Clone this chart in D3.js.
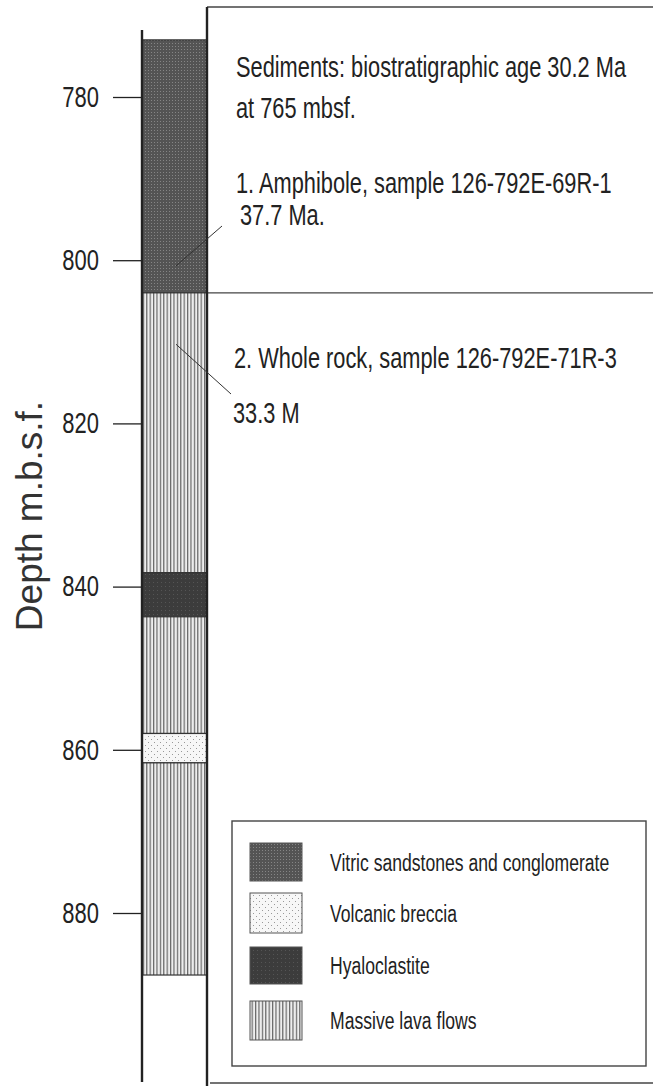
<!DOCTYPE html>
<html lang="en">
<head>
  <meta charset="UTF-8">
  <title>Hole 792E lithology column</title>
  <script src="https://d3js.org/d3.v7.min.js"></script>
  <style>
    body { margin: 0; background: #fff; }
    svg { display: block; background: #fff; }
    text { font-family: "Liberation Sans", Arial, sans-serif; fill: #222; }
    .axis text { font-size: 22px; fill: #222; font-family: "Liberation Sans", Arial, sans-serif; }
    .axis line { stroke: #222; stroke-width: 1.3; }
    .note { font-size: 21.8px; }
    .legend-text { font-size: 17.6px; }
    .frame { stroke: #444; stroke-width: 1.4; fill: none; }
  </style>
</head>
<body>
  <svg width="653" height="1086"></svg>
  <script>
    const width = 653;
    const height = 1086;
    const stretch = 1.33; // the original figure is stretched vertically

    // Depth ticks (m.b.s.f.)
    const depthTicks = [780, 800, 820, 840, 860, 880];

    // Lithologic units: top and bottom depth
    const units = [
      { name: "sediment",   top: 773,   bottom: 804 },
      { name: "lava",       top: 804,   bottom: 838.3 },
      { name: "hyalo",      top: 838.3, bottom: 843.7 },
      { name: "lava",       top: 843.7, bottom: 858 },
      { name: "breccia",    top: 858,   bottom: 861.6 },
      { name: "lava",       top: 861.6, bottom: 887.6 }
    ];

    // Legend entries
    const legendKeys = ["sediment", "breccia", "hyalo", "lava"];
    const legendLabels = [
      "Vitric sandstones and conglomerate",
      "Volcanic breccia",
      "Hyaloclastite",
      "Massive lava flows"
    ];

    // Sample positions (depth) for the leader lines
    const sampleDepths = [800.7, 810.3];

    // Text notes
    const notes = [
      "Sediments: biostratigraphic age 30.2 Ma",
      "at 765 mbsf.",
      "1. Amphibole, sample 126-792E-69R-1",
      "37.7 Ma.",
      "2. Whole rock, sample 126-792E-71R-3",
      "33.3 M"
    ];

    const svg = d3.select("svg");

    const y = d3.scaleLinear()
      .domain([780, 880])
      .range([97, 913]);

    const colLeft = 142;
    const colRight = 207;

    // Patterns
    const defs = svg.append("defs");

    const sed = defs.append("pattern")
      .attr("id", "p-sediment")
      .attr("patternUnits", "userSpaceOnUse")
      .attr("width", 3).attr("height", 3);
    sed.append("rect").attr("width", 3).attr("height", 3).attr("fill", "#545454");
    sed.append("rect").attr("x", 1).attr("y", 1).attr("width", 1).attr("height", 1).attr("fill", "#858585");

    const hy = defs.append("pattern")
      .attr("id", "p-hyalo")
      .attr("patternUnits", "userSpaceOnUse")
      .attr("width", 4).attr("height", 4);
    hy.append("rect").attr("width", 4).attr("height", 4).attr("fill", "#3c3c3c");
    hy.append("rect").attr("x", 1).attr("y", 2).attr("width", 1).attr("height", 1).attr("fill", "#555");

    const br = defs.append("pattern")
      .attr("id", "p-breccia")
      .attr("patternUnits", "userSpaceOnUse")
      .attr("width", 6).attr("height", 6);
    br.append("rect").attr("width", 6).attr("height", 6).attr("fill", "#f7f7f7");
    br.append("rect").attr("x", 1).attr("y", 1).attr("width", 1).attr("height", 1).attr("fill", "#999");
    br.append("rect").attr("x", 4).attr("y", 4).attr("width", 1).attr("height", 1).attr("fill", "#999");

    const lv = defs.append("pattern")
      .attr("id", "p-lava")
      .attr("patternUnits", "userSpaceOnUse")
      .attr("width", 3.4).attr("height", 10);
    lv.append("rect").attr("width", 3.4).attr("height", 10).attr("fill", "#eeeeee");
    lv.append("rect").attr("x", 0).attr("width", 1.2).attr("height", 10).attr("fill", "#666");

    // Outer frame lines
    svg.append("line").attr("class", "frame")
      .attr("x1", colRight).attr("x2", width).attr("y1", 7).attr("y2", 7);
    svg.append("line").attr("class", "frame")
      .attr("x1", colRight).attr("x2", width).attr("y1", y(804)).attr("y2", y(804));
    svg.append("line").attr("class", "frame")
      .attr("x1", colRight + 3).attr("x2", width).attr("y1", 1083).attr("y2", 1083);

    // Column fills
    svg.append("g")
      .selectAll("rect")
      .data(units)
      .join("rect")
      .attr("x", colLeft)
      .attr("width", colRight - colLeft)
      .attr("y", d => y(d.top))
      .attr("height", d => y(d.bottom) - y(d.top))
      .attr("fill", d => `url(#p-${d.name})`)
      .attr("stroke", "#333")
      .attr("stroke-width", 1.2);

    // Column edges
    svg.append("line")
      .attr("x1", colLeft).attr("x2", colLeft)
      .attr("y1", 30).attr("y2", 1082)
      .attr("stroke", "#222").attr("stroke-width", 2.4);
    svg.append("line")
      .attr("x1", colRight).attr("x2", colRight)
      .attr("y1", 7).attr("y2", height)
      .attr("stroke", "#222").attr("stroke-width", 2.4);

    // Axis
    const axis = svg.append("g")
      .attr("class", "axis")
      .attr("transform", `translate(${colLeft - 1},0)`)
      .call(d3.axisLeft(y).tickValues(depthTicks).tickSize(28).tickPadding(14));
    axis.select(".domain").remove();
    axis.selectAll(".tick text")
      .attr("font-size", null)
      .attr("transform", `scale(1,${stretch})`);

    svg.append("text")
      .attr("transform", `translate(42,${y(830) + 11}) rotate(-90)`)
      .attr("text-anchor", "middle")
      .style("font-size", "37px")
      .style("fill", "#333")
      .text("Depth m.b.s.f.");

    // Notes
    const noteX = [236, 236, 236, 240, 234, 233];
    const noteY = [77, 118, 193, 225, 368, 423];
    svg.append("g")
      .selectAll("text")
      .data(notes)
      .join("text")
      .attr("class", "note")
      .attr("transform", (d, i) => `translate(${noteX[i]},${noteY[i]}) scale(1,${stretch})`)
      .text(d => d);

    // Leader lines from sample position to the note
    const leaderEnds = [[222, 226], [231, 394]];
    svg.append("g")
      .selectAll("line")
      .data(sampleDepths)
      .join("line")
      .attr("x1", 176)
      .attr("y1", d => y(d))
      .attr("x2", (d, i) => leaderEnds[i][0])
      .attr("y2", (d, i) => leaderEnds[i][1])
      .attr("stroke", "#333")
      .attr("stroke-width", 1);

    // Legend
    const legend = svg.append("g");
    legend.append("rect")
      .attr("x", 232).attr("y", 821)
      .attr("width", 414).attr("height", 245)
      .attr("class", "frame");

    const rowY = [843, 893, 947, 1001];
    const rowH = [38, 40, 37, 39];
    const rows = legend.selectAll("g.row")
      .data(legendKeys)
      .join("g")
      .attr("class", "row");

    rows.append("rect")
      .attr("x", 250)
      .attr("y", (d, i) => rowY[i])
      .attr("width", 52)
      .attr("height", (d, i) => rowH[i])
      .attr("fill", d => `url(#p-${d})`)
      .attr("stroke", "#555")
      .attr("stroke-width", 1);

    rows.append("text")
      .attr("class", "legend-text")
      .attr("transform", (d, i) => `translate(330,${rowY[i] + rowH[i] / 2 + 8.5}) scale(1,${stretch})`)
      .text((d, i) => legendLabels[i]);
  </script>
</body>
</html>
